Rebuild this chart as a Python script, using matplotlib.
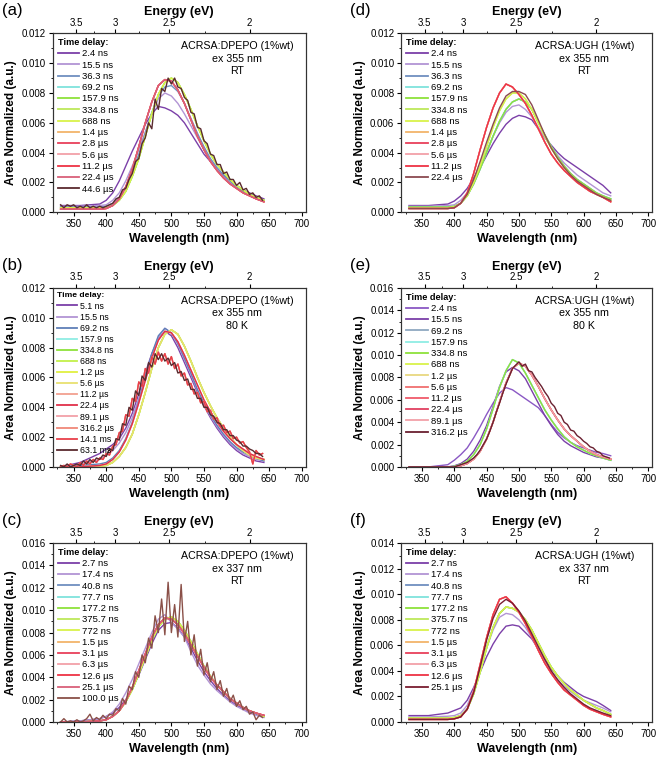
import matplotlib
matplotlib.use('Agg')
import matplotlib.pyplot as plt
from matplotlib.ticker import MultipleLocator, FixedLocator
import numpy as np

plt.rcParams['font.family'] = ['Liberation Sans', 'DejaVu Sans']

# wavelength grids (nm); spectra below are in units of 1e-3 (area normalized)
WL = [330, 360, 390, 400, 410, 420, 430, 440, 450, 460, 470, 480, 490, 500,
      510, 520, 530, 540, 550, 560, 570, 580, 590, 600, 610, 620, 630, 642]
NWL = list(range(330, 645, 5))  # finer grid for the noisy late spectra

# --- (a) ACRSA:DPEPO, ex 355 nm, RT
A_24NS = [0.45, 0.45, 0.55, 0.8, 1.3, 2.1, 3.1, 4.1, 5.0, 5.9, 6.6, 7.1, 7.0, 6.8,
          6.5, 6.0, 5.3, 4.6, 3.9, 3.4, 2.9, 2.5, 2.1, 1.8, 1.5, 1.3, 1.1, 0.9]
A_155NS = [0.4, 0.4, 0.45, 0.5, 0.8, 1.3, 2.1, 3.1, 4.2, 5.4, 6.6, 7.6, 8.0, 7.8,
           7.3, 6.6, 5.8, 5.0, 4.2, 3.5, 2.9, 2.4, 2.0, 1.7, 1.4, 1.2, 1.0, 0.8]
A_363NS = [0.35, 0.35, 0.35, 0.4, 0.6, 1.0, 1.7, 2.7, 3.9, 5.3, 6.7, 7.8, 8.4, 8.5,
           8.1, 7.3, 6.3, 5.3, 4.4, 3.6, 3.0, 2.5, 2.1, 1.7, 1.4, 1.2, 1.0, 0.8]
A_NS = [0.3, 0.3, 0.3, 0.3, 0.45, 0.8, 1.4, 2.4, 3.6, 5.1, 6.6, 7.9, 8.7, 9.0,
        8.7, 7.9, 6.9, 5.8, 4.8, 3.9, 3.2, 2.7, 2.2, 1.8, 1.5, 1.2, 1.0, 0.8]
A_US = [0.2, 0.2, 0.2, 0.25, 0.45, 0.9, 1.7, 2.9, 4.4, 6.0, 7.4, 8.5, 8.9, 8.8,
        8.2, 7.3, 6.2, 5.1, 4.2, 3.4, 2.8, 2.3, 1.9, 1.6, 1.3, 1.1, 0.9, 0.7]
A_446US = [0.5, 0.3, 0.5, 0.4, 0.5, 0.3, 0.4, 0.3, 0.5, 0.3, 0.4, 0.3, 0.4, 0.3,
           0.4, 0.5, 0.6, 0.9, 1.0, 1.5, 1.6, 2.2, 2.6, 3.4, 3.6, 4.6, 5.0, 6.0,
           5.6, 7.6, 6.9, 8.3, 8.1, 9.0, 8.6, 9.0, 8.4, 8.3, 7.7, 7.5, 6.7, 6.6,
           5.7, 5.6, 4.8, 4.6, 3.9, 3.8, 3.2, 3.2, 2.6, 2.7, 2.2, 2.2, 1.8, 2.0,
           1.5, 1.6, 1.2, 1.3, 1.0, 1.1, 0.8]

# --- (d) ACRSA:UGH, ex 355 nm, RT
D_24NS = [0.45, 0.45, 0.55, 0.75, 1.1, 1.6, 2.3, 3.0, 3.8, 4.6, 5.3, 5.9, 6.3, 6.5,
          6.4, 6.2, 5.6, 5.0, 4.5, 4.0, 3.6, 3.3, 3.0, 2.7, 2.4, 2.1, 1.8, 1.3]
D_155NS = [0.4, 0.4, 0.45, 0.5, 0.8, 1.3, 2.1, 3.0, 4.1, 5.1, 6.0, 6.7, 7.1, 7.2,
           6.9, 6.4, 5.7, 5.0, 4.4, 3.8, 3.3, 2.9, 2.5, 2.2, 1.9, 1.6, 1.3, 1.1]
D_NS = [0.35, 0.35, 0.35, 0.4, 0.6, 1.1, 1.9, 2.9, 4.0, 5.1, 6.1, 6.9, 7.4, 7.6,
        7.4, 6.9, 6.0, 5.2, 4.4, 3.7, 3.1, 2.6, 2.2, 1.9, 1.6, 1.3, 1.1, 0.9]
D_688NS = [0.3, 0.3, 0.3, 0.35, 0.6, 1.1, 2.0, 3.1, 4.4, 5.7, 6.8, 7.6, 8.0, 8.0,
           7.6, 6.9, 6.0, 5.1, 4.3, 3.6, 3.0, 2.5, 2.1, 1.8, 1.5, 1.2, 1.0, 0.8]
D_US = [0.25, 0.25, 0.25, 0.3, 0.6, 1.3, 2.6, 4.2, 5.7, 7.0, 8.0, 8.6, 8.4, 7.9,
        7.3, 6.5, 5.6, 4.7, 3.9, 3.3, 2.8, 2.4, 2.0, 1.7, 1.4, 1.2, 1.0, 0.7]
D_224US = [0.25, 0.25, 0.25, 0.3, 0.6, 1.2, 2.2, 3.4, 4.7, 5.9, 7.0, 7.8, 8.1, 8.1,
           7.9, 7.2, 6.2, 5.2, 4.3, 3.6, 3.0, 2.5, 2.1, 1.8, 1.5, 1.2, 1.0, 0.8]

# --- (b) ACRSA:DPEPO, ex 355 nm, 80 K
B_51NS = [0.0, 0.3, 0.9, 1.2, 1.5, 1.9, 2.6, 3.6, 4.9, 6.3, 7.6, 8.6, 9.1, 8.8,
          8.0, 7.0, 6.0, 5.0, 4.1, 3.3, 2.6, 2.0, 1.5, 1.1, 0.8, 0.6, 0.4, 0.3]
B_155NS = [0.0, 0.2, 0.5, 0.8, 1.1, 1.6, 2.3, 3.3, 4.6, 6.0, 7.5, 8.7, 9.3, 9.0,
           8.2, 7.2, 6.2, 5.1, 4.2, 3.4, 2.7, 2.1, 1.6, 1.2, 0.9, 0.7, 0.5, 0.4]
B_692NS = [0.0, 0.1, 0.2, 0.3, 0.6, 1.1, 1.9, 3.0, 4.4, 6.0, 7.6, 8.8, 9.3, 9.0,
           8.3, 7.3, 6.3, 5.2, 4.3, 3.5, 2.8, 2.2, 1.7, 1.3, 1.0, 0.8, 0.6, 0.4]
B_NS = [0.0, 0.0, 0.05, 0.1, 0.3, 0.7, 1.3, 2.2, 3.5, 5.0, 6.6, 8.0, 8.9, 9.2,
        8.9, 8.1, 7.1, 6.0, 5.0, 4.1, 3.3, 2.6, 2.0, 1.5, 1.1, 0.8, 0.6, 0.5]
B_US = [0.0, 0.0, 0.1, 0.2, 0.5, 1.0, 1.8, 2.9, 4.3, 5.8, 7.3, 8.5, 9.1, 9.0,
        8.4, 7.5, 6.5, 5.5, 4.5, 3.7, 3.0, 2.4, 1.9, 1.5, 1.2, 0.9, 0.7, 0.5]
B_LATE = [0.0, 0.1, 0.0, 0.2, 0.1, 0.0, 0.3, 0.1, 0.4, 0.2, 0.5, 0.3, 0.6, 0.5,
          0.9, 0.8, 1.4, 1.5, 2.3, 2.4, 3.5, 3.4, 4.6, 4.4, 5.7, 5.4, 6.6, 6.3,
          7.4, 6.9, 7.7, 7.1, 7.6, 6.9, 7.4, 6.6, 6.9, 6.1, 6.3, 5.5, 5.6, 4.9,
          5.0, 4.3, 4.4, 3.7, 3.8, 3.2, 3.3, 2.7, 2.8, 2.3, 2.4, 1.9, 2.0, 1.6,
          1.7, 1.3, 1.0, 0.2, 1.1, 0.8, 0.9]
B_631MS = [0.1, 0.0, 0.2, 0.0, 0.1, 0.2, 0.1, 0.4, 0.2, 0.5, 0.3, 0.6, 0.5, 0.8,
           0.7, 1.2, 1.1, 1.9, 1.8, 2.9, 2.8, 4.0, 3.8, 5.1, 4.8, 6.1, 5.8, 7.0,
           6.7, 7.6, 7.2, 7.6, 7.1, 7.3, 6.8, 7.0, 6.3, 6.4, 5.8, 5.9, 5.2, 5.2,
           4.6, 4.6, 4.0, 4.0, 3.5, 3.4, 3.0, 2.9, 2.5, 2.5, 2.1, 2.1, 1.8, 1.7,
           1.4, 1.4, 1.2, 1.1, 0.9, 0.9, 0.7]

# --- (e) ACRSA:UGH, ex 355 nm, 80 K
E_24NS = [0.0, 0.0, 0.2, 0.6, 1.1, 1.7, 2.6, 3.6, 4.7, 5.7, 6.6, 7.1, 6.9, 6.5,
          6.1, 5.7, 5.3, 4.6, 3.8, 3.1, 2.6, 2.2, 1.9, 1.7, 1.5, 1.3, 1.2, 1.0]
E_155NS = [0.0, 0.0, 0.0, 0.1, 0.3, 0.7, 1.4, 2.4, 3.7, 5.4, 7.2, 8.5, 8.9, 8.6,
           7.9, 6.8, 5.7, 4.6, 3.7, 2.9, 2.3, 1.9, 1.6, 1.3, 1.1, 0.9, 0.8, 0.6]
E_NS = [0.0, 0.0, 0.0, 0.05, 0.2, 0.5, 1.1, 2.0, 3.4, 5.2, 7.1, 8.6, 9.6, 9.3,
        8.4, 7.3, 6.2, 5.1, 4.2, 3.4, 2.7, 2.2, 1.8, 1.5, 1.2, 1.0, 0.8, 0.6]
E_US = [0.0, 0.0, 0.0, 0.0, 0.1, 0.3, 0.7, 1.4, 2.5, 4.0, 5.8, 7.5, 8.8, 9.3,
        9.0, 8.2, 7.2, 6.1, 5.1, 4.2, 3.4, 2.8, 2.3, 1.8, 1.4, 1.1, 0.9, 0.7]
E_3162US = [0.0, 0.0, 0.0, 0.0, 0.0, 0.0, 0.0, 0.0, 0.0, 0.0, 0.0, 0.0, 0.0, 0.0,
            0.0, 0.1, 0.2, 0.3, 0.4, 0.6, 0.8, 1.1, 1.5, 2.0, 2.5, 3.2, 4.0, 4.9,
            5.7, 6.6, 7.4, 8.1, 8.8, 9.1, 9.4, 9.0, 9.2, 8.6, 8.5, 8.0, 7.6, 7.2,
            6.7, 6.3, 5.7, 5.4, 4.8, 4.6, 4.0, 3.8, 3.3, 3.2, 2.8, 2.6, 2.3, 2.1,
            1.8, 1.7, 1.4, 1.3, 1.0, 0.9, 0.8]

# --- (c) ACRSA:DPEPO, ex 337 nm, RT
C_27NS = [0.0, 0.1, 0.3, 0.5, 0.8, 1.3, 2.0, 3.0, 4.2, 5.6, 7.0, 8.2, 8.8, 8.9,
          8.4, 7.6, 6.6, 5.5, 4.5, 3.7, 3.0, 2.4, 1.9, 1.5, 1.2, 0.9, 0.7, 0.5]
C_174NS = [0.0, 0.1, 0.3, 0.5, 0.9, 1.6, 2.6, 3.8, 5.2, 6.6, 8.0, 9.2, 9.6, 8.9,
           8.3, 7.6, 6.3, 5.1, 4.2, 3.4, 2.8, 2.3, 1.8, 1.4, 1.1, 0.8, 0.6, 0.4]
C_NS = [0.0, 0.0, 0.1, 0.2, 0.5, 1.0, 1.8, 2.9, 4.3, 5.8, 7.3, 8.5, 9.2, 9.4,
        9.0, 8.2, 7.2, 6.1, 5.0, 4.1, 3.3, 2.7, 2.1, 1.7, 1.3, 1.0, 0.8, 0.5]
C_US = [0.0, 0.0, 0.1, 0.2, 0.5, 1.0, 1.9, 3.1, 4.6, 6.1, 7.6, 8.7, 9.3, 9.2,
        8.7, 7.9, 6.9, 5.9, 4.9, 4.0, 3.3, 2.7, 2.1, 1.7, 1.3, 1.0, 0.8, 0.6]
C_100US = [0.0, 0.3, 0.0, 0.1, 0.0, 0.2, 0.0, 0.1, 0.3, 0.7, 0.1, 0.4, 0.2, 0.6,
           0.3, 0.7, 0.6, 1.2, 1.0, 2.1, 1.6, 3.2, 2.9, 4.5, 4.0, 6.0, 5.3, 7.5,
           6.6, 9.5, 8.0, 11.0, 7.8, 12.5, 8.0, 10.5, 7.6, 12.3, 7.2, 9.0, 6.0, 7.8,
           5.0, 6.5, 4.2, 5.3, 3.6, 4.5, 2.9, 3.7, 2.3, 3.0, 1.8, 2.4, 1.4, 1.9,
           1.1, 1.4, 0.7, 0.9, 0.2, 0.6, 0.4]

# --- (f) ACRSA:UGH, ex 337 nm, RT
F_27NS = [0.5, 0.5, 0.7, 0.9, 1.1, 1.7, 2.7, 3.9, 5.1, 6.1, 6.9, 7.5, 7.6, 7.5,
          7.0, 6.5, 5.7, 4.9, 4.2, 3.6, 3.1, 2.7, 2.3, 2.0, 1.8, 1.6, 1.3, 0.9]
F_174NS = [0.4, 0.4, 0.45, 0.5, 0.7, 1.3, 2.5, 4.1, 5.8, 7.2, 8.2, 8.5, 8.4, 8.0,
           7.4, 6.6, 5.7, 4.8, 4.0, 3.3, 2.8, 2.4, 2.0, 1.7, 1.5, 1.3, 1.1, 0.8]
F_NS = [0.3, 0.3, 0.3, 0.35, 0.5, 1.0, 2.2, 3.9, 5.8, 7.4, 8.5, 9.0, 8.9, 8.6,
        8.0, 7.2, 6.2, 5.2, 4.3, 3.6, 3.0, 2.5, 2.1, 1.7, 1.4, 1.1, 0.9, 0.6]
F_US = [0.2, 0.2, 0.2, 0.25, 0.4, 1.0, 2.4, 4.5, 6.6, 8.4, 9.6, 9.8, 9.3, 8.6,
        7.7, 6.7, 5.6, 4.6, 3.8, 3.1, 2.5, 2.1, 1.7, 1.3, 1.0, 0.8, 0.6, 0.4]
F_251US = [0.2, 0.2, 0.2, 0.25, 0.4, 1.0, 2.3, 4.3, 6.4, 8.1, 9.2, 9.6, 9.3, 8.7,
           7.9, 6.9, 5.9, 4.9, 4.0, 3.3, 2.7, 2.2, 1.8, 1.4, 1.1, 0.9, 0.7, 0.5]

# legend labels
A_LABELS = ['2.4 ns', '15.5 ns', '36.3 ns', '69.2 ns', '157.9 ns', '334.8 ns', '688 ns',
            '1.4 µs', '2.8 µs', '5.6 µs', '11.2 µs', '22.4 µs', '44.6 µs']
D_LABELS = ['2.4 ns', '15.5 ns', '36.3 ns', '69.2 ns', '157.9 ns', '334.8 ns', '688 ns',
            '1.4 µs', '2.8 µs', '5.6 µs', '11.2 µs', '22.4 µs']
B_LABELS = ['5.1 ns', '15.5 ns', '69.2 ns', '157.9 ns', '334.8 ns', '688 ns', '1.2 µs',
            '5.6 µs', '11.2 µs', '22.4 µs', '89.1 µs', '316.2 µs', '14.1 ms', '63.1 ms']
E_LABELS = ['2.4 ns', '15.5 ns', '69.2 ns', '157.9 ns', '334.8 ns', '688 ns', '1.2 µs',
            '5.6 µs', '11.2 µs', '22.4 µs', '89.1 µs', '316.2 µs']
C_LABELS = ['2.7 ns', '17.4 ns', '40.8 ns', '77.7 ns', '177.2 ns', '375.7 ns', '772 ns',
            '1.5 µs', '3.1 µs', '6.3 µs', '12.6 µs', '25.1 µs', '100.0 µs']
F_LABELS = ['2.7 ns', '17.4 ns', '40.8 ns', '77.7 ns', '177.2 ns', '375.7 ns', '772 ns',
            '1.5 µs', '3.1 µs', '6.3 µs', '12.6 µs', '25.1 µs']

# which spectrum belongs to each legend entry
A_CURVES = [A_24NS, A_155NS, A_363NS, A_NS, A_NS, A_NS, A_NS, A_US, A_US, A_US, A_US, A_US, A_446US]
D_CURVES = [D_24NS, D_155NS, D_NS, D_NS, D_NS, D_688NS, D_688NS, D_US, D_US, D_US, D_US, D_224US]
B_CURVES = [B_51NS, B_155NS, B_692NS, B_NS, B_NS, B_NS, B_NS, B_NS, B_US, B_US,
            B_LATE, B_LATE, B_LATE, B_631MS]
E_CURVES = [E_24NS, E_155NS, E_NS, E_NS, E_NS, E_US, E_US, E_US, E_US, E_US, E_US, E_3162US]
C_CURVES = [C_27NS, C_174NS, C_NS, C_NS, C_NS, C_NS, C_NS, C_US, C_US, C_US, C_US, C_US, C_100US]
F_CURVES = [F_27NS, F_174NS, F_NS, F_NS, F_NS, F_NS, F_NS, F_US, F_US, F_US, F_US, F_251US]

PALETTE = ['#7B3FA8', '#B294D4', '#6F8FBF', '#7FE3DC', '#8EE23A', '#BDE85A', '#D9F24A',
           '#F2B46A', '#E8405A', '#F2A0A8', '#EE3344', '#D9607A', '#5A2A2E']
B_COLORS = ['#7B3FA8', '#B294D4', '#5F7FB8', '#8FEDE4', '#8EE23A', '#C3F04A', '#E0F040',
            '#E8E070', '#F2A090', '#E0304A', '#F2A0A8', '#F08878', '#E8404A', '#5A2A2E']
E_COLORS = ['#8A58C4', '#7B3FA8', '#8FA8C0', '#8FEDE4', '#8EE23A', '#D9F24A', '#E8D880',
            '#F07070', '#F05A6A', '#E04060', '#F2A0A8', '#6A2030']

E_TICKS = [3.5, 3.0, 2.5, 2.0]
E_MINOR = [3.25, 2.75, 2.25]


def draw_panel(rect, letter, curves, labels, colors, ymax, sample, exc, temp, legsize=6.8):
    ax = fig.add_axes(rect)
    for y, lab, col in zip(curves, labels, colors):
        x = NWL if len(y) == len(NWL) else WL
        ax.plot(x, np.array(y) * 1e-3, color=col, lw=1.0, label=lab)
    ax.set_xlim(318, 706)
    ax.set_ylim(0, ymax)
    ax.xaxis.set_major_locator(MultipleLocator(50))
    ax.xaxis.set_minor_locator(MultipleLocator(25))
    ax.yaxis.set_major_locator(MultipleLocator(0.002))
    ax.yaxis.set_minor_locator(MultipleLocator(0.001))
    ax.yaxis.set_major_formatter(matplotlib.ticker.FormatStrFormatter('%.3f'))
    ax.tick_params(which='major', length=3, width=0.8, labelsize=7, pad=2)
    ax.tick_params(which='minor', length=1.5, width=0.6)
    ax.set_xlabel('Wavelength (nm)', fontsize=9, fontweight='bold', labelpad=3)
    ax.set_ylabel('Area Normalized (a.u.)', fontsize=8.5, fontweight='bold', labelpad=3)

    # top energy axis
    top = ax.twiny()
    top.set_xlim(ax.get_xlim())
    top.xaxis.set_major_locator(FixedLocator([1240 / e for e in E_TICKS]))
    top.xaxis.set_minor_locator(FixedLocator([1240 / e for e in E_MINOR]))
    top.set_xticklabels([f'{e:g}' for e in E_TICKS])
    top.tick_params(which='major', length=3, width=0.8, labelsize=7, pad=1)
    top.tick_params(which='minor', length=1.5, width=0.6)
    top.set_xlabel('Energy (eV)', fontsize=9, fontweight='bold', labelpad=2)

    for a in (ax, top):
        for s in a.spines.values():
            s.set_linewidth(0.8)
            s.set_color('#333333')

    leg = ax.legend(loc='upper left', bbox_to_anchor=(0.0, 1.0), frameon=False,
                    fontsize=legsize, title='Time delay:', alignment='left',
                    title_fontproperties={'weight': 'bold', 'size': legsize - 0.2},
                    handlelength=2.3, handletextpad=0.3, labelspacing=0.24,
                    borderaxespad=0.3, borderpad=0.2)
    for h in leg.legend_handles:
        h.set_linewidth(1.3)
    ax.text(0.73, 0.955, f'{sample}\nex {exc} nm\n{temp}', transform=ax.transAxes,
            ha='center', va='top', fontsize=7.7, linespacing=1.3)

    fig.text(rect[0] - 0.077, rect[1] + rect[3] + 0.040, letter, fontsize=12, va='top')
    return ax


fig = plt.figure(figsize=(6.6, 7.58), dpi=100)

W, H = 0.383, 0.236
draw_panel([0.080, 0.720, W, H], '(a)', A_CURVES, A_LABELS, PALETTE, 0.012,
           'ACRSA:DPEPO (1%wt)', 355, 'RT')
draw_panel([0.608, 0.720, 0.380, H], '(d)', D_CURVES, D_LABELS, PALETTE[:11] + ['#8B4A50'], 0.012,
           'ACRSA:UGH (1%wt)', 355, 'RT')
draw_panel([0.080, 0.384, W, H], '(b)', B_CURVES, B_LABELS, B_COLORS, 0.012,
           'ACRSA:DPEPO (1%wt)', 355, '80 K', legsize=6.3)
draw_panel([0.608, 0.384, 0.380, H], '(e)', E_CURVES, E_LABELS, E_COLORS, 0.016,
           'ACRSA:UGH (1%wt)', 355, '80 K')
draw_panel([0.080, 0.0475, W, H], '(c)', C_CURVES, C_LABELS, PALETTE[:12] + ['#8A5048'], 0.016,
           'ACRSA:DPEPO (1%wt)', 337, 'RT')
draw_panel([0.608, 0.0475, 0.380, H], '(f)', F_CURVES, F_LABELS, PALETTE[:11] + ['#7A1E30'], 0.014,
           'ACRSA:UGH (1%wt)', 337, 'RT')

fig.savefig('out.png', dpi=100, facecolor='white')
plt.close(fig)
